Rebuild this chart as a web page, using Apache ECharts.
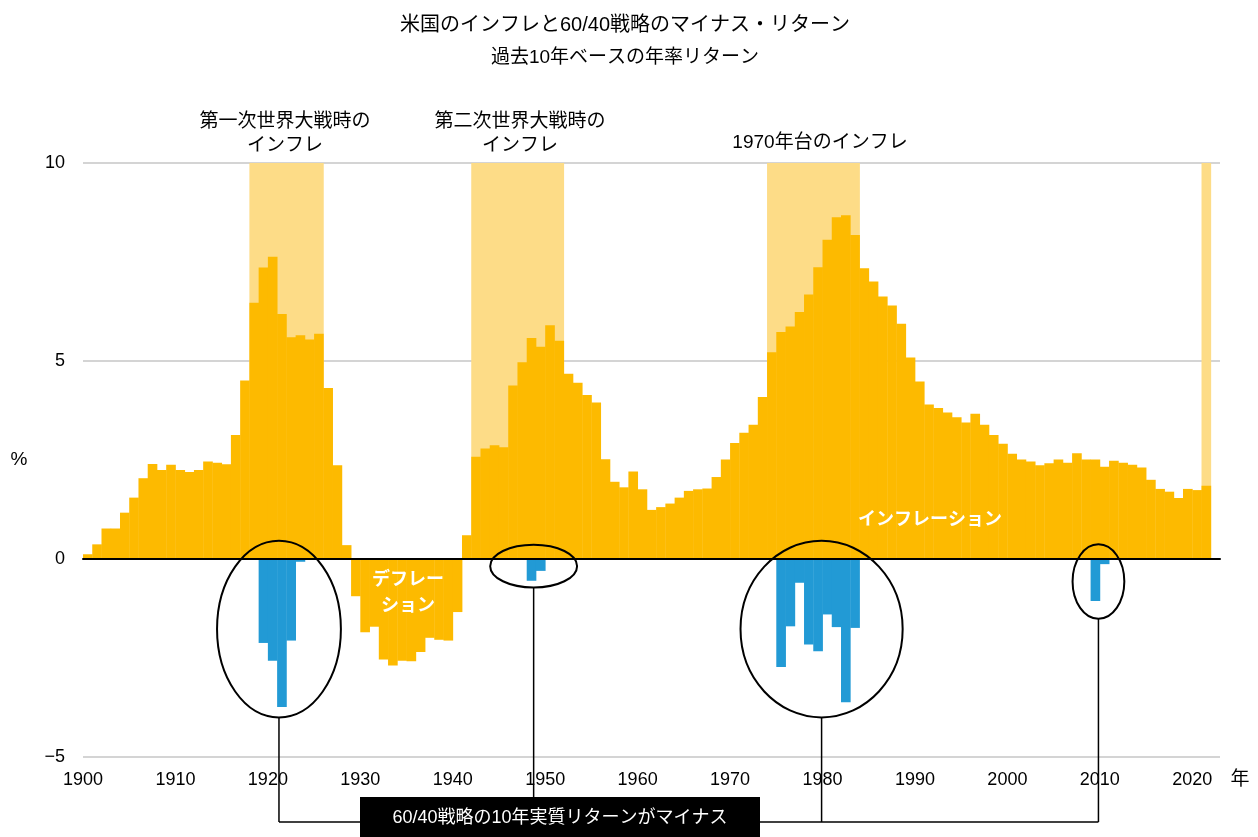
<!DOCTYPE html>
<html>
<head>
<meta charset="utf-8">
<script src="https://cdn.jsdelivr.net/npm/echarts@6/dist/echarts.min.js"></script>
<style>
  html, body { margin: 0; padding: 0; background: #fff; }
  #main { width: 1258px; height: 837px; }
</style>
</head>
<body>
<div id="main"></div>
<script>
// 過去10年ベースの年率インフレ (%), 1900年から1年ごと
var inflation = [
    0.12, 0.37, 0.77, 0.77, 1.17, 1.55, 2.04, 2.40, 2.25, 2.38,
    2.25, 2.20, 2.25, 2.46, 2.43, 2.39, 3.13, 4.51, 6.47, 7.36,
    7.63, 6.19, 5.60, 5.65, 5.54, 5.69, 4.32, 2.37, 0.35, -0.94,
    -1.85, -1.71, -2.54, -2.69, -2.57, -2.58, -2.35, -1.99, -2.04, -2.06,
    -1.34, 0.60, 2.58, 2.79, 2.87, 2.82, 4.38, 4.97, 5.58, 5.36,
    5.90, 5.51, 4.68, 4.45, 4.14, 3.95, 2.52, 1.95, 1.81, 2.21,
    1.76, 1.24, 1.31, 1.40, 1.55, 1.72, 1.76, 1.78, 2.07, 2.51,
    2.93, 3.19, 3.39, 4.09, 5.22, 5.73, 5.87, 6.24, 6.68, 7.37,
    8.06, 8.63, 8.68, 8.18, 7.34, 7.01, 6.63, 6.40, 5.94, 5.09,
    4.48, 3.90, 3.81, 3.70, 3.58, 3.45, 3.67, 3.39, 3.13, 2.91,
    2.66, 2.51, 2.46, 2.37, 2.42, 2.51, 2.43, 2.67, 2.51, 2.51,
    2.33, 2.48, 2.43, 2.38, 2.31, 2.00, 1.77, 1.70, 1.54, 1.77,
    1.74, 1.85
];
var firstYear = 1900;
var years = inflation.map(function (v, i) { return firstYear + i; });

// 60/40戦略の10年実質リターンがマイナスの年
var negYears  = [1919, 1920, 1921, 1922, 1923, 1948, 1949,
                 1975, 1976, 1977, 1978, 1979, 1980, 1981, 1982, 1983, 2009, 2010];
var negValues = [-2.12, -2.57, -3.74, -2.06, -0.07, -0.55, -0.30,
                 -2.73, -1.70, -0.60, -2.16, -2.33, -1.40, -1.72, -3.62, -1.74, -1.06, -0.13];

// インフレ期（背景の帯）
var bandStart = [1918, 1942, 1974, 2021];
var bandEnd   = [1926, 1952, 1984, 2022];

var yTicks = [-5, 0, 5, 10];

var FONT = '"Liberation Sans", Arial, "Noto Sans CJK JP", sans-serif';
var ORANGE = '#FDBA00';
var BAND = '#FDDC87';
var BLUE = '#229AD5';

var chart = echarts.init(document.getElementById('main'));

function rectItem(x0, x1, v0, v1, api, color) {
    var a = api.coord([x0, v0]);
    var b = api.coord([x1, v1]);
    return {
        type: 'rect',
        shape: {
            x: a[0],
            y: Math.min(a[1], b[1]),
            width: b[0] - a[0] + 0.4,
            height: Math.abs(b[1] - a[1])
        },
        style: { fill: color }
    };
}

var option = {
    animation: false,
    backgroundColor: '#fff',
    title: [
        {
            text: '米国のインフレと60/40戦略のマイナス・リターン',
            left: 620, top: 10, textAlign: 'center',
            textStyle: { fontFamily: FONT, fontSize: 20, fontWeight: 'normal', color: '#000' }
        },
        {
            text: '過去10年ベースの年率リターン',
            left: 620, top: 43, textAlign: 'center',
            textStyle: { fontFamily: FONT, fontSize: 19, fontWeight: 'normal', color: '#000' }
        }
    ],
    grid: { left: 83, right: 38, top: 163, bottom: 80, containLabel: false },
    xAxis: [
        {
            type: 'value', min: 1900, max: 2023, interval: 10,
            axisLine: { show: false, onZero: false },
            axisTick: { show: false },
            splitLine: { show: false },
            axisLabel: {
                margin: 14, color: '#000', fontSize: 18, fontFamily: FONT,
                formatter: function (v) { return v <= 2020 ? String(v) : ''; }
            }
        },
        {
            type: 'value', min: 1900, max: 2023, position: 'top', z: 10,
            axisLine: { show: true, onZero: true, lineStyle: { color: '#000', width: 2 } },
            axisTick: { show: false },
            axisLabel: { show: false },
            splitLine: { show: false }
        }
    ],
    yAxis: {
        type: 'value', min: yTicks[0], max: yTicks[yTicks.length - 1], interval: 5,
        axisLine: { show: false },
        axisTick: { show: false },
        axisLabel: {
            margin: 18, color: '#000', fontSize: 18, fontFamily: FONT,
            formatter: function (v) { return v < 0 ? '\u2212' + Math.abs(v) : String(v); }
        },
        splitLine: { lineStyle: { color: '#c6c6c6', width: 1.5 } }
    },
    series: [
        {
            name: 'band',
            type: 'custom',
            z: 1,
            silent: true,
            data: bandStart.map(function (s, i) { return [s, bandEnd[i]]; }),
            renderItem: function (params, api) {
                return rectItem(api.value(0), api.value(1), 0, 10, api, BAND);
            }
        },
        {
            name: 'インフレ',
            type: 'custom',
            z: 2,
            data: years.map(function (y, i) { return [y, inflation[i]]; }),
            renderItem: function (params, api) {
                var x = api.value(0);
                return rectItem(x, x + 1, 0, api.value(1), api, ORANGE);
            }
        },
        {
            name: '60/40',
            type: 'custom',
            z: 3,
            data: negYears.map(function (y, i) { return [y, negValues[i]]; }),
            renderItem: function (params, api) {
                var x = api.value(0);
                return rectItem(x, x + 1, 0, api.value(1), api, BLUE);
            }
        }
    ]
};

chart.setOption(option);

// 注記（楕円と接続線）
var ellipses = [
    { x: 1921.2, y: -1.77, rx: 6.7, ry: 2.23 },
    { x: 1948.75, y: -0.18, rx: 4.7, ry: 0.54 },
    { x: 1979.9, y: -1.77, rx: 8.77, ry: 2.23 },
    { x: 2009.85, y: -0.57, rx: 2.8, ry: 0.94 }
];

var gfx = [];
var lineY = 822;
var boxTop = 797;
var px = ellipses.map(function (e) {
    var c = chart.convertToPixel({ xAxisIndex: 0, yAxisIndex: 0 }, [e.x, e.y]);
    var r = chart.convertToPixel({ xAxisIndex: 0, yAxisIndex: 0 }, [e.x + e.rx, e.y - e.ry]);
    return { cx: c[0], cy: c[1], rx: r[0] - c[0], ry: r[1] - c[1] };
});
px.forEach(function (p, i) {
    gfx.push({
        type: 'ellipse', z: 20,
        shape: { cx: p.cx, cy: p.cy, rx: p.rx, ry: p.ry },
        style: { fill: null, stroke: '#000', lineWidth: 2 }
    });
    gfx.push({
        type: 'line', z: 20,
        shape: { x1: p.cx, y1: p.cy + p.ry, x2: p.cx, y2: i === 1 ? boxTop : lineY },
        style: { stroke: '#000', lineWidth: 1.5 }
    });
});
gfx.push({
    type: 'line', z: 20,
    shape: { x1: px[0].cx, y1: lineY, x2: px[3].cx, y2: lineY },
    style: { stroke: '#000', lineWidth: 1.5 }
});
gfx.push({
    type: 'rect', z: 21,
    shape: { x: 360, y: boxTop, width: 400, height: 42 },
    style: { fill: '#000' }
});
gfx.push({
    type: 'text', z: 22, x: 560, y: 818,
    style: { text: '60/40戦略の10年実質リターンがマイナス', fill: '#fff', font: '18px ' + FONT, align: 'center', verticalAlign: 'middle' }
});

// 帯の見出し
function label(text, x, y, extra) {
    var st = { text: text, fill: '#000', font: '19px ' + FONT, align: 'center', verticalAlign: 'middle' };
    if (extra) { for (var k in extra) st[k] = extra[k]; }
    gfx.push({ type: 'text', z: 22, x: x, y: y, style: st });
}
label('第一次世界大戦時の', 285, 122);
label('インフレ', 285, 146);
label('第二次世界大戦時の', 520, 122);
label('インフレ', 520, 146);
label('1970年台のインフレ', 820, 143);
label('%', 19, 460);
label('年', 1240, 780);
label('インフレーション', 930, 520, { fill: '#fff', font: 'bold 18px ' + FONT });
label('デフレー', 408, 580, { fill: '#fff', font: 'bold 18px ' + FONT });
label('ション', 408, 606, { fill: '#fff', font: 'bold 18px ' + FONT });

chart.setOption({ graphic: gfx });
</script>
</body>
</html>
